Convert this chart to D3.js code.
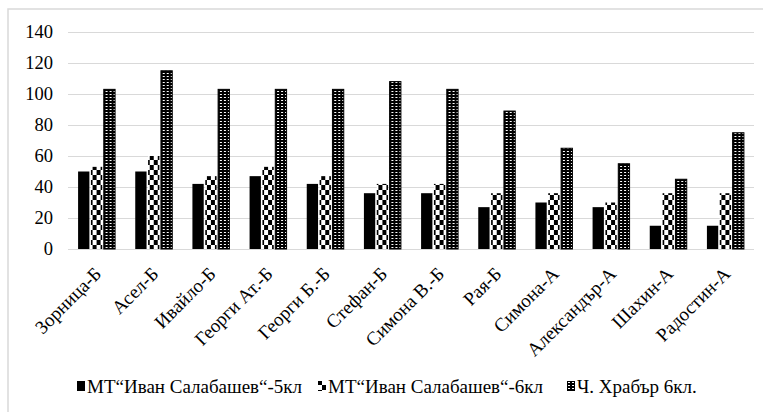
<!DOCTYPE html>
<html>
<head>
<meta charset="utf-8">
<script src="https://cdn.jsdelivr.net/npm/d3@7"></script>
<style>
  html, body { margin: 0; padding: 0; background: #fff; }
  svg { display: block; }
</style>
</head>
<body>
<svg id="chart" width="763" height="412" font-family="Liberation Serif"></svg>
<script>
const categories = ["Зорница-Б", "Асел-Б", "Ивайло-Б", "Георги Ат.-Б", "Георги Б.-Б", "Стефан-Б",
  "Симона В.-Б", "Рая-Б", "Симона-А", "Александър-А", "Шахин-А", "Радостин-А"];
const seriesNames = ["МТ“Иван Салабашев“-5кл", "МТ“Иван Салабашев“-6кл", "Ч. Храбър 6кл."];
const series5kl = [50, 50, 42, 47, 42, 36, 36, 27, 30, 27, 15, 15];
const series6kl = [53, 60, 47, 53, 47, 42, 42, 36, 36, 30, 36, 36];
const seriesHrabar = [103, 115, 103, 103, 103, 108, 103, 89, 65, 55, 45, 75];
const yTicks = [0, 20, 40, 60, 80, 100, 120, 140];

const seriesValues = [series5kl, series6kl, seriesHrabar];
const FONT = "Liberation Serif";
const svg = d3.select("#chart");

// patterns
const defs = svg.append("defs");
const p2 = defs.append("pattern").attr("id", "pat2").attr("patternUnits", "userSpaceOnUse")
  .attr("width", 8).attr("height", 10);
p2.append("rect").attr("width", 8).attr("height", 10).attr("fill", "#fff");
p2.append("rect").attr("x", 0).attr("y", 0).attr("width", 4).attr("height", 5).attr("fill", "#000");
p2.append("rect").attr("x", 4).attr("y", 5).attr("width", 4).attr("height", 5).attr("fill", "#000");
const p3 = defs.append("pattern").attr("id", "pat3").attr("patternUnits", "userSpaceOnUse")
  .attr("width", 4).attr("height", 3);
p3.append("rect").attr("width", 4).attr("height", 3).attr("fill", "#000");
p3.append("rect").attr("x", 1).attr("y", 1).attr("width", 2).attr("height", 1).attr("fill", "#fff");
const fills = ["#000", "url(#pat2)", "url(#pat3)"];

// chart border
svg.append("rect").attr("x", 8).attr("y", 9).attr("width", 770).attr("height", 420)
  .attr("fill", "none").attr("stroke", "#d9d9d9").attr("stroke-width", 1.5);

const x0 = d3.scaleBand().domain(categories).range([68, 754]).paddingInner(0).paddingOuter(0);
const x1 = d3.scaleBand().domain(d3.range(3)).range([-18.5, 18.5]).paddingInner(0.12);
const y = d3.scaleLinear().domain([0, 140]).range([249, 32]);

// gridlines
svg.append("g").selectAll("line").data(yTicks).join("line")
  .attr("x1", 68).attr("x2", 754)
  .attr("y1", d => Math.round(y(d)) + 0.5).attr("y2", d => Math.round(y(d)) + 0.5)
  .attr("stroke", "#d9d9d9").attr("stroke-width", 1);

// y labels
const yAxis = d3.axisLeft(y).tickValues(yTicks).tickSize(0).tickPadding(0);
const yg = svg.append("g").attr("transform", "translate(53,0)").call(yAxis)
  .attr("font-family", FONT).attr("font-size", 18.5);
yg.select(".domain").remove();
yg.selectAll("text").attr("fill", "#000");

// bars
const groups = svg.append("g").selectAll("g").data(categories).join("g")
  .attr("transform", d => `translate(${x0(d) + x0.bandwidth() / 2},0)`);
groups.selectAll("rect").data((d, i) => seriesValues.map((s, k) => ({ k, v: s[i] })))
  .join("rect")
  .attr("x", d => x1(d.k))
  .attr("width", x1.bandwidth())
  .attr("y", d => y(d.v))
  .attr("height", d => y(0) - y(d.v))
  .attr("fill", d => fills[d.k])
  .attr("stroke", d => d.k === 2 ? "#000" : "none")
  .attr("stroke-width", 1);

// x labels
const xAxis = d3.axisBottom(x0).tickSize(0).tickPadding(0);
const xg = svg.append("g").attr("transform", "translate(0,249)").call(xAxis)
  .attr("font-family", FONT).attr("font-size", 19);
xg.select(".domain").remove();
xg.selectAll("text")
  .attr("fill", "#000")
  .attr("text-anchor", "end")
  .attr("dy", null).attr("y", 0)
  .attr("transform", "translate(6,26) rotate(-45)");

// legend
const legendX = [77, 318, 567];
const lg = svg.append("g").attr("font-family", FONT).attr("font-size", 19)
  .selectAll("g").data(seriesNames).join("g")
  .attr("transform", (d, i) => `translate(${legendX[i]},0)`);
lg.append("rect").attr("x", 0).attr("y", 381).attr("width", 8).attr("height", 10)
  .attr("fill", (d, i) => fills[i]);
lg.append("text").attr("x", 10).attr("y", 393).text(d => d);
</script>
</body>
</html>
